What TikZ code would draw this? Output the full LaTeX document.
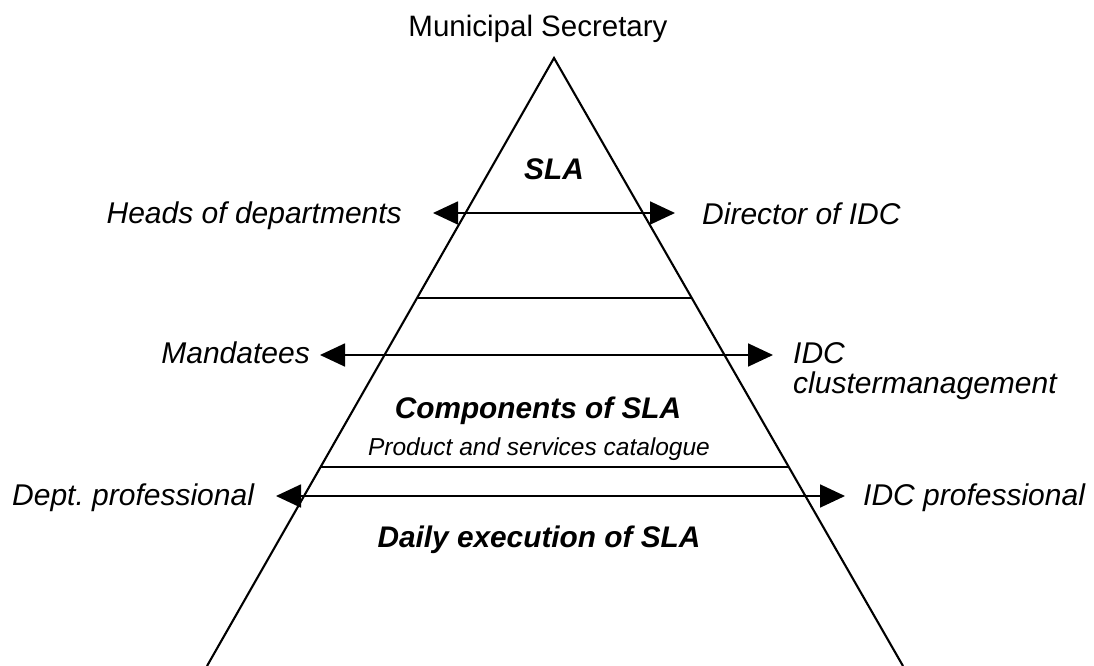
\documentclass[tikz,border=0pt]{standalone}
\usepackage{fontspec}
\setmainfont{Liberation Sans}
\usetikzlibrary{arrows.meta}
\frenchspacing
\begin{document}
\begin{tikzpicture}[x=1pt,y=-1pt,
  lbl/.style={inner sep=0pt,font=\fontsize{30}{31}\selectfont\itshape},
  plain/.style={inner sep=0pt,font=\fontsize{29.5}{31}\selectfont},
  head/.style={inner sep=0pt,font=\fontsize{29.8}{31}\selectfont\bfseries\itshape},
  small/.style={inner sep=0pt,font=\fontsize{24.5}{26}\selectfont\itshape},
  side/.style={line width=2.1pt,line join=miter},
  divider/.style={line width=1.8pt},
  biarrow/.style={line width=1.8pt,{Triangle[length=25pt,width=23pt]}-{Triangle[length=25pt,width=23pt]}}]
\useasboundingbox (0,0) rectangle (1094,666);
% pyramid
\coordinate (apex) at (554,58);
\coordinate (bl) at (207,666);
\coordinate (br) at (903,666);
\draw[side] (bl) -- (apex) -- (br);
\draw[gray!30,line width=1pt] (bl) -- (br);
% dividers
\coordinate (d1l) at (417,298);
\coordinate (d1r) at (691,298);
\coordinate (d2l) at (320,467);
\coordinate (d2r) at (788,467);
\draw[divider] (d1l) -- (d1r);
\draw[divider] (d2l) -- (d2r);
% texts
\node[plain,anchor=base] (ms) at (538,37) {Municipal Secretary};
\node[head,anchor=base] (sla) at (554,179) {SLA};
\node[lbl,anchor=base east] (hod) at (402,223) {Heads of departments};
\node[lbl,anchor=base west] (dir) at (702,224) {Director of IDC};
\node[lbl,anchor=base east] (man) at (310,363) {Mandatees};
\node[lbl,anchor=base west] (idc) at (793,363) {IDC};
\node[lbl,anchor=base west] (clm) at (793,393) {clustermanagement};
\node[head,anchor=base] (comp) at (538,418) {Components of SLA};
\node[small,anchor=base] (cat) at (539,455) {Product and services catalogue};
\node[lbl,anchor=base west] (dept) at (12,505) {Dept. professional};
\node[lbl,anchor=base west] (idcp) at (863,505) {IDC professional};
\node[head,anchor=base] (daily) at (539,547) {Daily execution of SLA};
% arrows
\coordinate (a1l) at (433,213);
\coordinate (a1r) at (675,213);
\coordinate (a2l) at (320,355);
\coordinate (a2r) at (773,355);
\coordinate (a3l) at (276,496);
\coordinate (a3r) at (845,496);
\draw[biarrow] (a1l) -- (a1r);
\draw[biarrow] (a2l) -- (a2r);
\draw[biarrow] (a3l) -- (a3r);
\end{tikzpicture}
\end{document}
